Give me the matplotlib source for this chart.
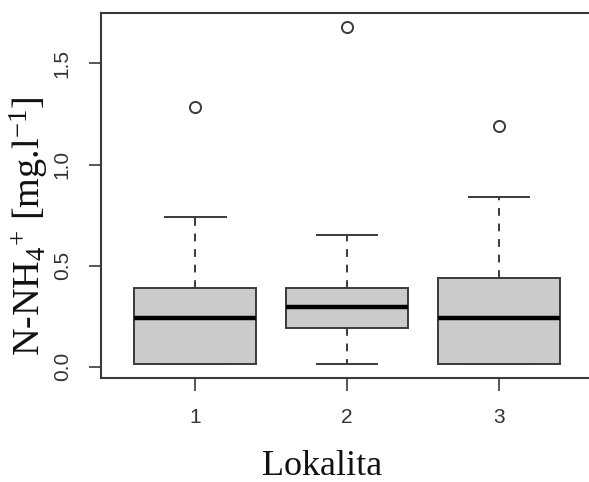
import matplotlib
matplotlib.use("Agg")
import matplotlib.pyplot as plt

# Data
categories = ["1", "2", "3"]
whisker_low = [0.013, 0.013, 0.013]
q1 = [0.013, 0.193, 0.013]
medians = [0.242, 0.294, 0.242]
q3 = [0.388, 0.388, 0.437]
whisker_high = [0.740, 0.650, 0.841]
outliers = [[1.283], [1.681], [1.190]]
yticks = [0.0, 0.5, 1.0, 1.5]
ytick_labels = ["0.0", "0.5", "1.0", "1.5"]
xlabel = "Lokalita"
ylabel = "N-NH$_4$$^{+}$ [mg.l$^{-1}$]"

plt.rcParams['mathtext.fontset'] = 'custom'
plt.rcParams['mathtext.rm'] = 'Liberation Serif'
plt.rcParams['mathtext.it'] = 'Liberation Serif:italic'
plt.rcParams['mathtext.bf'] = 'Liberation Serif:bold'

W, H = 589, 482
fig = plt.figure(figsize=(W / 100, H / 100), dpi=100)
left_px, right_px, top_px, bot_px = 101, 593.2, 13.3, 377.7
ax = fig.add_axes([left_px / W, 1 - bot_px / H, (right_px - left_px) / W, (bot_px - top_px) / H])

stats = []
for i in range(len(categories)):
    stats.append(dict(whislo=whisker_low[i], q1=q1[i], med=medians[i], q3=q3[i],
                      whishi=whisker_high[i], fliers=outliers[i], label=categories[i]))

line_col = '#3a3a3a'
positions = list(range(1, len(categories) + 1))
ax.bxp(stats, positions=positions, widths=0.8, capwidths=0.4, patch_artist=True,
       boxprops=dict(facecolor='#cbcbcb', edgecolor=line_col, linewidth=1.4),
       medianprops=dict(color='black', linewidth=3.2, solid_capstyle='butt'),
       whiskerprops=dict(color=line_col, linewidth=1.4, linestyle=(0, (4, 4))),
       capprops=dict(color=line_col, linewidth=1.4),
       flierprops=dict(marker='o', markerfacecolor='none', markeredgecolor=line_col,
                       markersize=8, markeredgewidth=1.4))

ax.set_xlim(0.38, 3.62)
ax.set_ylim(-0.054, 1.748)
ax.set_xticks(positions)
ax.set_xticklabels(categories)
ax.set_yticks(yticks)
ax.set_yticklabels(ytick_labels)

for s in ax.spines.values():
    s.set_color(line_col)
    s.set_linewidth(1.5)

ax.tick_params(axis='both', colors=line_col, labelcolor='#333333', width=1.2,
               labelsize=15, length=9)
ax.tick_params(axis='y', pad=12, labelrotation=90)
ax.tick_params(axis='x', pad=13)
for lab in ax.get_yticklabels():
    lab.set_va('center')
    lab.set_family('Liberation Sans')
for lab in ax.get_xticklabels():
    lab.set_family('Liberation Sans')

ax.set_xlabel(xlabel, fontsize=26, family='Liberation Serif', color='#111111', va='baseline')
ax.xaxis.set_label_coords((322 - left_px) / (right_px - left_px), (bot_px - 475) / (bot_px - top_px))
ax.set_ylabel(ylabel, fontsize=27.5, family='Liberation Serif', color='#111111', va='center')
ax.yaxis.set_label_coords((29 - left_px) / (right_px - left_px), (bot_px - 226) / (bot_px - top_px))

fig.savefig('out.png', dpi=100)
